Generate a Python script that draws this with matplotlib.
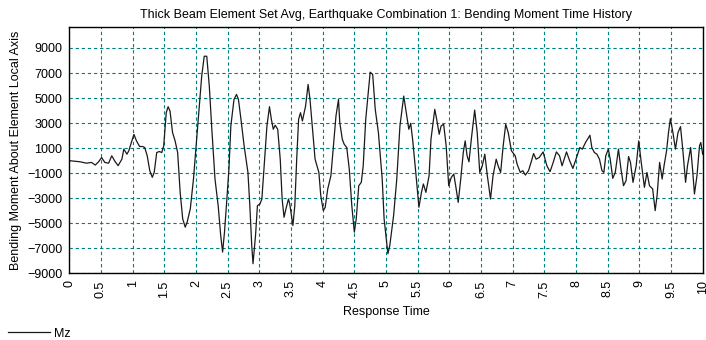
import matplotlib.pyplot as plt

# Response time (s) and Mz bending moment
time = [
    0.00, 0.17, 0.27, 0.35, 0.41, 0.46, 0.51, 0.56, 0.62, 0.67, 0.72, 0.77,
    0.83, 0.86, 0.91, 0.94, 0.97, 1.02, 1.06, 1.11, 1.16, 1.19, 1.23, 1.27,
    1.31, 1.34, 1.38, 1.42, 1.46, 1.49, 1.53, 1.56, 1.59, 1.63, 1.67, 1.71,
    1.75, 1.79, 1.83, 1.86, 1.91, 1.96, 2.00, 2.04, 2.09, 2.13, 2.17, 2.21,
    2.25, 2.30, 2.35, 2.39, 2.42, 2.45, 2.48, 2.52, 2.55, 2.60, 2.64, 2.67,
    2.71, 2.76, 2.82, 2.85, 2.88, 2.90, 2.94, 2.97, 3.01, 3.04, 3.08, 3.12,
    3.16, 3.19, 3.22, 3.25, 3.29, 3.33, 3.36, 3.39, 3.42, 3.46, 3.48, 3.53,
    3.56, 3.59, 3.62, 3.65, 3.68, 3.73, 3.77, 3.80, 3.84, 3.88, 3.94, 3.97,
    4.01, 4.04, 4.08, 4.13, 4.17, 4.21, 4.25, 4.27, 4.31, 4.34, 4.38, 4.42,
    4.46, 4.50, 4.53, 4.57, 4.61, 4.64, 4.68, 4.73, 4.75, 4.79, 4.83, 4.88,
    4.94, 4.97, 5.03, 5.06, 5.12, 5.17, 5.22, 5.28, 5.32, 5.36, 5.39, 5.42,
    5.47, 5.52, 5.56, 5.59, 5.63, 5.68, 5.71, 5.77, 5.80, 5.84, 5.87, 5.91,
    5.95, 5.99, 6.03, 6.07, 6.10, 6.14, 6.18, 6.22, 6.25, 6.28, 6.31, 6.35,
    6.40, 6.44, 6.48, 6.52, 6.56, 6.60, 6.65, 6.69, 6.74, 6.77, 6.81, 6.85,
    6.89, 6.93, 6.98, 7.04, 7.07, 7.12, 7.16, 7.20, 7.25, 7.29, 7.33, 7.37,
    7.42, 7.48, 7.54, 7.59, 7.64, 7.69, 7.74, 7.78, 7.85, 7.90, 7.95, 8.00,
    8.06, 8.10, 8.15, 8.22, 8.25, 8.29, 8.33, 8.37, 8.41, 8.44, 8.47, 8.51,
    8.54, 8.58, 8.62, 8.67, 8.71, 8.75, 8.79, 8.83, 8.86, 8.90, 8.95, 8.99,
    9.03, 9.08, 9.12, 9.16, 9.21, 9.25, 9.28, 9.32, 9.36, 9.39, 9.43, 9.46,
    9.49, 9.53, 9.57, 9.61, 9.65, 9.69, 9.73, 9.76, 9.81, 9.84, 9.87, 9.91,
    9.95, 9.97, 10.00,
]
mz = [
    0, -90, -200, -140, -350, -100, 250, -140, -200, 390, -50, -400,
    120, 920, 520, 800, 1300, 2100, 1580, 1130, 1130, 1050, 390, -800,
    -1330, -940, 650, 730, 650, 1180, 3830, 4310, 3960, 2240, 1580, 650,
    -2530, -4650, -5310, -4910, -3850, -1470, 1050, 3570, 6750, 8340, 8340, 5950,
    2510, -1470, -3590, -5970, -7300, -5700, -3600, -670, 2770, 4890, 5290, 4890,
    3300, 1180, -940, -3590, -6770, -8230, -5970, -3590, -3460, -3060, -140, 2770,
    4310, 3300, 2510, 2830, 2510, 120, -3060, -4520, -3850, -3060, -3460, -5180,
    -3590, 120, 3300, 3830, 3170, 4360, 6090, 4890, 2510, 120, -940, -2790,
    -3990, -3720, -2260, -1200, 1180, 3570, 4890, 3040, 1710, 1310, 1050, -670,
    -3590, -5710, -4650, -2000, -1730, -410, 3300, 5950, 7070, 6880, 4100, 2240,
    -1470, -4650, -7430, -6770, -4380, -1470, 2770, 5160, 3830, 2510, 2980, 1710,
    -940, -3720, -2530, -1860, -2530, -1200, 1710, 4100, 3300, 2110, 2770, 2910,
    1180, -2000, -1340, -1070, -2000, -3330, -1470, 650, 1580, 390, -90, 1850,
    4040, 2240, -940, -410, 520, -1200, -3060, -1200, 120, -410, -940, 1180,
    2910, 2240, 790, 390, -280, -940, -800, -1150, -800, -140, 570, 120,
    255, 700, -410, -880, -140, 700, 390, -410, 700, -10, -620, 120,
    1050, 920, 1450, 2030, 1050, 650, 520, 120, -800, -940, 390, 920,
    120, -1410, -940, 920, -670, -2000, -1600, 330, -140, -1730, -410, 1580,
    -140, -2130, -940, -2000, -2260, -3990, -2790, -140, -1470, -410, 790, 2240,
    3360, 2240, 920, 2240, 2720, 650, -1730, -410, 1050, -670, -2660, -1200,
    1180, 1450, 520,
]

x_ticks = [0, 0.5, 1, 1.5, 2, 2.5, 3, 3.5, 4, 4.5, 5, 5.5, 6, 6.5, 7, 7.5,
           8, 8.5, 9, 9.5, 10]
x_labels = ["0", "0.5", "1", "1.5", "2", "2.5", "3", "3.5", "4", "4.5", "5",
            "5.5", "6", "6.5", "7", "7.5", "8", "8.5", "9", "9.5", "10"]
y_ticks = [-9000, -7000, -5000, -3000, -1000, 1000, 3000, 5000, 7000, 9000]

plt.rcParams['font.family'] = ['Liberation Sans', 'DejaVu Sans']
plt.rcParams['font.size'] = 9

fig = plt.figure(figsize=(7.06, 3.40), dpi=100)
ax = fig.add_axes([0.0982, 0.196, 0.8971, 0.7255])

ax.plot(time, mz, color='#1a1a1a', lw=0.9, label='Mz')

ax.set_xlim(0, 10)
ax.set_ylim(-9000, 10700)
ax.set_xticks(x_ticks)
ax.set_xticklabels(x_labels, rotation=90)
ax.set_yticks(y_ticks)
ax.tick_params(length=0, pad=5, labelsize=9)
ax.grid(True, color='#008080', ls=(0, (3, 2.5)), lw=0.8)
for s in ax.spines.values():
    s.set_color('black')
    s.set_linewidth(1)

ax.set_title('Thick Beam Element Set Avg, Earthquake Combination 1: Bending Moment Time History',
             fontsize=9, pad=6)
ax.set_xlabel('Response Time', fontsize=9, labelpad=6)
ax.set_ylabel('Bending Moment About Element Local Axis', fontsize=9, labelpad=4)

fig.legend(loc='lower left', bbox_to_anchor=(-0.005, -0.032), frameon=False,
           handlelength=3.4, handletextpad=0.3, fontsize=9)

fig.savefig('out.png', dpi=100)
